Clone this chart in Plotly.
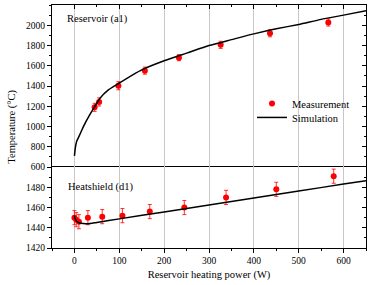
import plotly.graph_objects as go

# Reservoir (a1) measurements
res_x = [45, 55, 98, 157, 233, 326, 436, 566]
res_y = [1190, 1243, 1403, 1552, 1680, 1807, 1921, 2027]
res_err = [40, 40, 40, 35, 30, 35, 35, 35]
# Reservoir simulation
res_sim_x = [0, 2, 5, 11, 20, 34, 45, 57, 75, 100, 150, 200, 250, 300, 350, 400, 450, 500, 550, 600, 650]
res_sim_y = [710, 790, 855, 910, 1000, 1115, 1195, 1280, 1360, 1430, 1560, 1650, 1725, 1800, 1858, 1915, 1965, 2008, 2058, 2100, 2144]

# Heatshield (d1) measurements
hs_x = [0, 4, 10, 30, 62, 107, 168, 245, 338, 450, 578]
hs_y = [1450, 1448, 1446, 1450, 1451, 1452, 1456, 1460, 1470, 1478, 1491]
hs_err = [7, 7, 7, 7, 7, 7, 7, 7, 7, 7, 7]
# Heatshield simulation
hs_sim_x = [0, 1, 3, 6, 10, 20, 30, 50, 100, 200, 300, 400, 500, 600, 650]
hs_sim_y = [1452, 1450, 1447.5, 1446, 1445, 1444.2, 1444, 1445.3, 1448.8, 1455.7, 1462.5, 1469.4, 1476.3, 1483.2, 1486.6]

x_ticks = [0, 100, 200, 300, 400, 500, 600]
res_ticks = [600, 800, 1000, 1200, 1400, 1600, 1800, 2000]
hs_ticks = [1420, 1440, 1460, 1480]

FONT = "Liberation Serif"
RED = "#ff0000"

fig = go.Figure()

fig.add_trace(go.Scatter(x=res_x, y=res_y, mode="markers", name="Measurement",
                         marker=dict(color=RED, size=6), legend="legend",
                         error_y=dict(type="data", array=res_err, color=RED, thickness=0.8, width=2),
                         xaxis="x2", yaxis="y2"))
fig.add_trace(go.Scatter(x=res_sim_x, y=res_sim_y, mode="lines", name="Simulation",
                         line=dict(color="black", width=1.5, shape="spline", smoothing=0.6),
                         legend="legend2", xaxis="x2", yaxis="y2"))
fig.add_trace(go.Scatter(x=hs_x, y=hs_y, mode="markers", showlegend=False,
                         marker=dict(color=RED, size=6),
                         error_y=dict(type="data", array=hs_err, color=RED, thickness=0.8, width=2),
                         xaxis="x", yaxis="y"))
fig.add_trace(go.Scatter(x=hs_sim_x, y=hs_sim_y, mode="lines", showlegend=False,
                         line=dict(color="black", width=1.5, shape="spline", smoothing=0.6),
                         xaxis="x", yaxis="y"))

tickfont = dict(family=FONT, size=9.5, color="black")
split = 0.333
common_x = dict(range=[-50, 650], showgrid=True, gridcolor="#c8c8c8", gridwidth=1,
                zeroline=False, linecolor="black", linewidth=1, automargin=False)
legend_style = dict(xanchor="left", yanchor="top", bgcolor="rgba(0,0,0,0)",
                    font=dict(family=FONT, size=10.5), itemwidth=30)

fig.update_layout(
    width=374, height=285,
    margin=dict(l=52, r=8, t=5, b=37, autoexpand=False),
    plot_bgcolor="white", paper_bgcolor="white",
    font=dict(family=FONT, color="black"),
    xaxis=dict(**common_x, domain=[0, 1], anchor="y", showline=True, mirror=True,
               tickvals=x_ticks, ticks="outside", ticklen=4, tickcolor="black",
               minor=dict(dtick=50, ticks="outside", ticklen=2, tickcolor="black", showgrid=False),
               tickfont=tickfont,
               title=dict(text="Reservoir heating power (W)", font=dict(family=FONT, size=10.5), standoff=5)),
    xaxis2=dict(**common_x, domain=[0, 1], anchor="y2", matches="x", side="top", showline=True,
                tickvals=x_ticks, ticks="inside", ticklen=4, tickcolor="black", showticklabels=False,
                minor=dict(dtick=50, ticks="inside", ticklen=2, tickcolor="black", showgrid=False)),
    yaxis=dict(domain=[0, split], anchor="x", range=[1420, 1500], tickvals=hs_ticks,
               showgrid=False, zeroline=False, showline=True, linecolor="black", linewidth=1,
               ticks="outside", ticklen=4, tickcolor="black", tickfont=tickfont, automargin=False,
               minor=dict(dtick=10, ticks="outside", ticklen=2, tickcolor="black")),
    yaxis2=dict(domain=[split, 1], anchor="x2", range=[600, 2200], tickvals=res_ticks,
                showgrid=False, zeroline=False, showline=True, linecolor="black", linewidth=1,
                ticks="outside", ticklen=4, tickcolor="black", tickfont=tickfont, automargin=False,
                minor=dict(dtick=100, ticks="outside", ticklen=2, tickcolor="black")),
    yaxis3=dict(domain=[0, split], anchor="x", overlaying="y", matches="y", side="right",
                tickvals=hs_ticks, showgrid=False, zeroline=False, showline=True, automargin=False,
                linecolor="black", linewidth=1, ticks="inside", ticklen=4, tickcolor="black",
                showticklabels=False,
                minor=dict(dtick=10, ticks="inside", ticklen=2, tickcolor="black")),
    yaxis4=dict(domain=[split, 1], anchor="x2", overlaying="y2", matches="y2", side="right",
                tickvals=res_ticks, showgrid=False, zeroline=False, showline=True, automargin=False,
                linecolor="black", linewidth=1, ticks="inside", ticklen=4, tickcolor="black",
                showticklabels=False,
                minor=dict(dtick=100, ticks="inside", ticklen=2, tickcolor="black")),
    legend=dict(x=0.637, y=0.654, **legend_style),
    legend2=dict(x=0.637, y=0.597, **legend_style),
    showlegend=True,
    annotations=[
        dict(text="Reservoir (a1)", x=0.04, y=0.975, xref="paper", yref="paper",
             xanchor="left", yanchor="top", showarrow=False, font=dict(family=FONT, size=10.5)),
        dict(text="Heatshield (d1)", x=0.045, y=0.286, xref="paper", yref="paper",
             xanchor="left", yanchor="top", showarrow=False, font=dict(family=FONT, size=10.5)),
        dict(text="Temperature (°C)", x=-0.13, y=0.5, xref="paper", yref="paper",
             xanchor="center", yanchor="middle", textangle=-90, showarrow=False,
             font=dict(family=FONT, size=10.5)),
    ],
)

# dummy traces to activate the right-side overlay axes
fig.add_trace(go.Scatter(x=[None], y=[None], xaxis="x", yaxis="y3", showlegend=False, hoverinfo="skip"))
fig.add_trace(go.Scatter(x=[None], y=[None], xaxis="x2", yaxis="y4", showlegend=False, hoverinfo="skip"))

fig.write_html("out.html", config={"displayModeBar": False},
               post_script="document.body.style.margin='0';document.body.style.overflow='hidden';")
